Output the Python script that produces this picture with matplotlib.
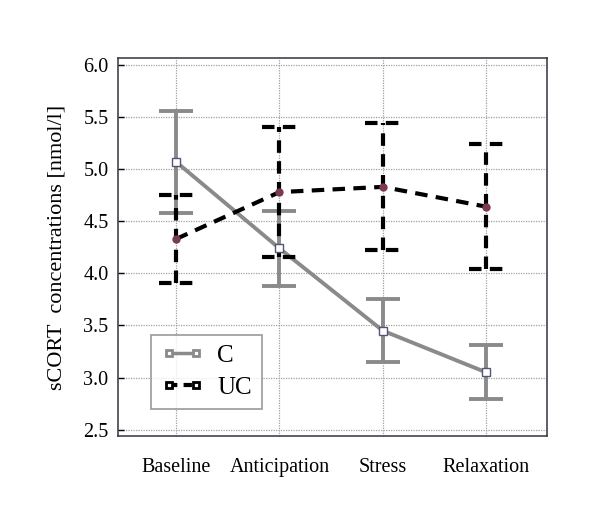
import matplotlib
matplotlib.use('Agg')
import matplotlib.pyplot as plt
from matplotlib.lines import Line2D

phases = ['Baseline', 'Anticipation', 'Stress', 'Relaxation']
c_mean = [5.07, 4.24, 3.45, 3.05]
c_err = [0.49, 0.36, 0.30, 0.26]
uc_mean = [4.33, 4.78, 4.83, 4.64]
uc_err = [0.42, 0.62, 0.61, 0.60]
yticks = [2.5, 3.0, 3.5, 4.0, 4.5, 5.0, 5.5, 6.0]

plt.rcParams['font.family'] = ['Liberation Serif', 'DejaVu Serif']

gray = '#8a8a8a'
x = list(range(len(phases)))

fig = plt.figure(figsize=(6, 5.15), dpi=100)
ax = fig.add_axes([0.197, 0.1535, 0.715, 0.7335])

# C group: solid gray
ax.errorbar(x, c_mean, yerr=c_err, color=gray, lw=2.8, capsize=12, capthick=2.8,
            elinewidth=2.8, zorder=3)
ax.plot(x, c_mean, ls='none', marker='s', ms=5.5, mfc='white', mec='#555577',
        mew=1, zorder=5)

# UC group: dashed black, dashed caps
dash = (0, (3, 2))
ax.plot(x, uc_mean, color='black', lw=3, ls=dash, zorder=4)
lo = [m - e for m, e in zip(uc_mean, uc_err)]
hi = [m + e for m, e in zip(uc_mean, uc_err)]
ax.vlines(x, lo, hi, colors='black', lw=3, linestyles=dash, zorder=4)
xl = [xi - 0.17 for xi in x]
xr = [xi + 0.17 for xi in x]
ax.hlines(lo + hi, xl + xl, xr + xr, colors='black', lw=3, linestyles=dash, zorder=4)
ax.plot(x, uc_mean, ls='none', marker='o', ms=5, color='#7a3a55', zorder=6)

ax.set_xlim(-0.56, 3.59)
ax.set_ylim(2.44, 6.065)
ax.set_yticks(yticks)
ax.set_yticklabels(['%.1f' % t for t in yticks])
ax.set_xticks(x)
ax.set_xticklabels(phases)
ax.tick_params(axis='x', length=0, pad=16, labelsize=14.5)
ax.tick_params(axis='y', length=4, width=1, direction='in', labelsize=14.5, pad=7)
ax.grid(True, ls=(0, (1, 1)), color='#a0a0a0', lw=0.9, zorder=0)
for s in ax.spines.values():
    s.set_color('#333340')
    s.set_linewidth(1.1)

ax.set_ylabel('sCORT  concentrations [nmol/l]', fontsize=16, labelpad=12)

handles = [
    Line2D([0], [0], color=gray, lw=2.5, marker='s', ms=5, mfc='white', mec=gray, mew=2),
    Line2D([0], [0], color='black', lw=3, ls=(0, (2, 1.5)), marker='s', ms=5,
           mfc='white', mec='black', mew=2),
]
leg = ax.legend(handles, ['C', 'UC'], loc='lower left', bbox_to_anchor=(0.077, 0.071),
                fontsize=18, frameon=True, fancybox=False, borderaxespad=0,
                handlelength=1.7, handletextpad=0.55, borderpad=0.4,
                labelspacing=0.38, numpoints=2)
leg.get_frame().set_edgecolor('#808080')
leg.get_frame().set_linewidth(1.2)

fig.savefig('out.png', dpi=100)
